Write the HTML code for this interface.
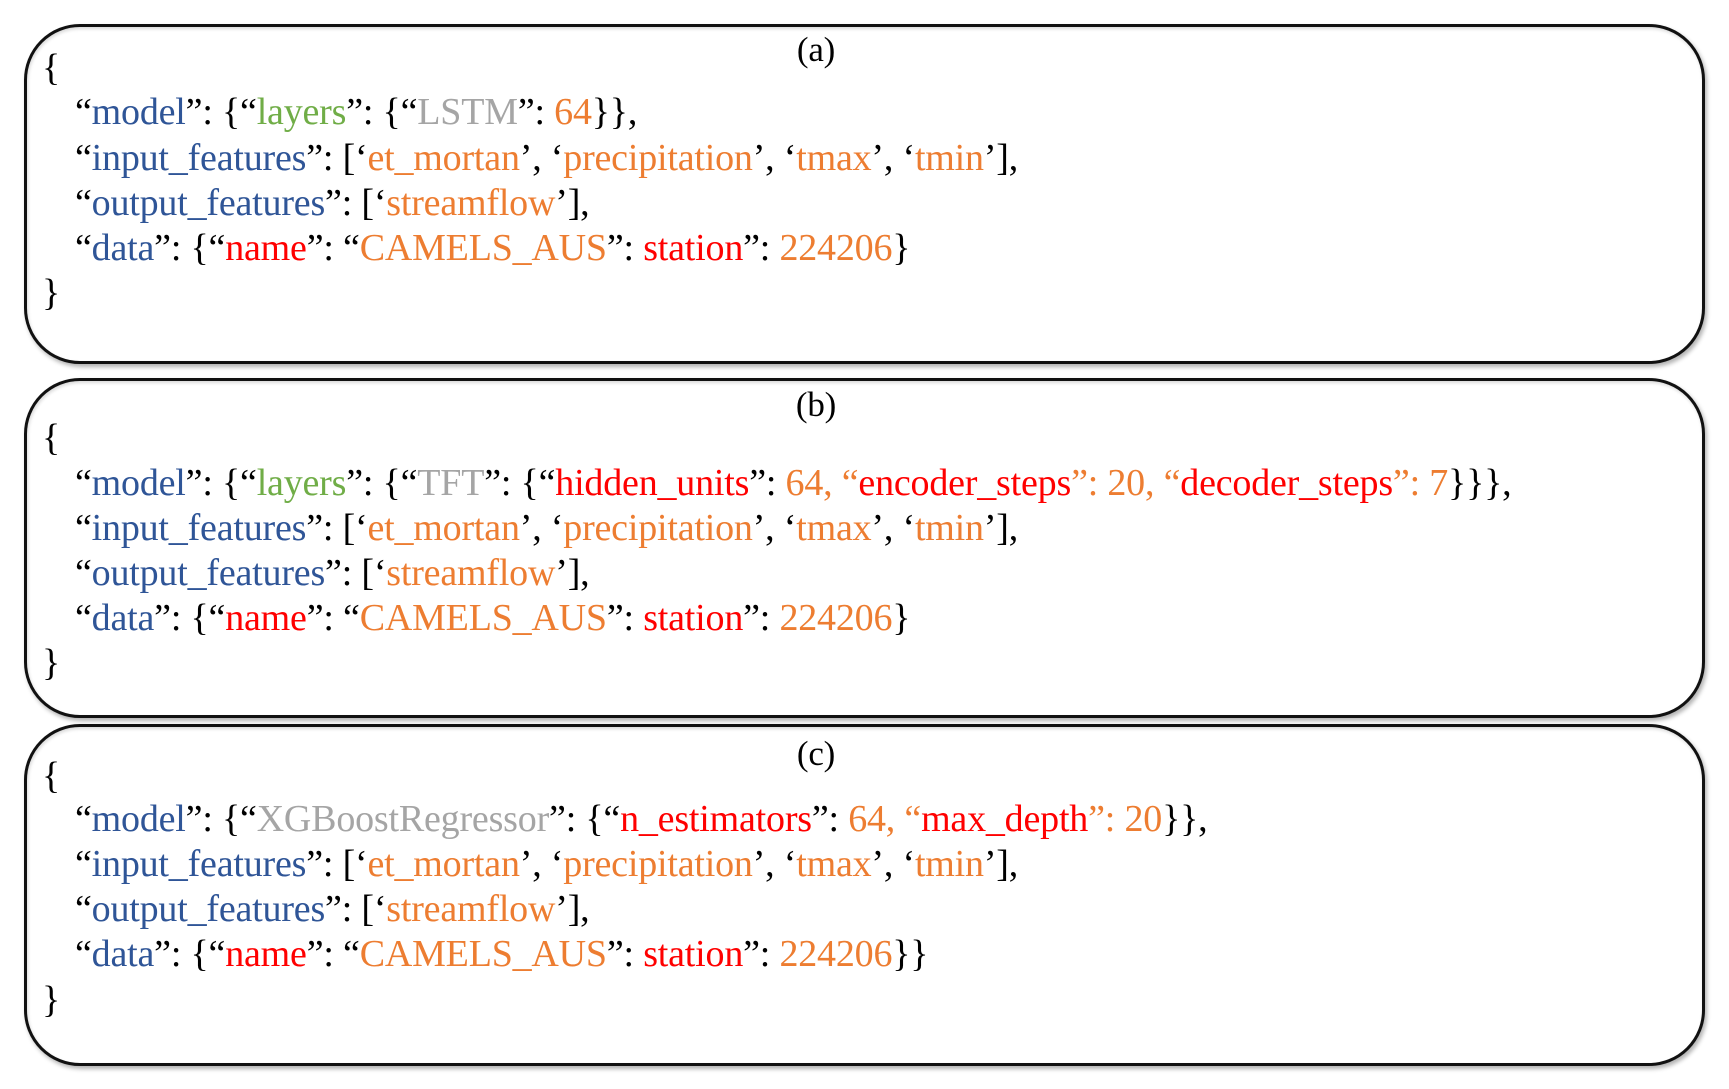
<!DOCTYPE html>
<html><head><meta charset="utf-8"><style>
html,body{margin:0;padding:0;background:#fff;width:1729px;height:1089px;overflow:hidden;position:relative}
.box{position:absolute;left:24px;width:1675px;border:3px solid #111;border-radius:56px;box-shadow:2px 3px 4px rgba(0,0,0,0.3), inset 1px 2px 3px rgba(0,0,0,0.15);background:#fff}
.t{position:absolute;font-family:"Liberation Serif",serif;font-size:38px;line-height:40px;white-space:pre;color:#000;letter-spacing:-0.2px}
.lab{left:0;width:1632px;text-align:center;font-size:35px}
.b{color:#2F5597}.g{color:#70AD47}.y{color:#A5A5A5}.o{color:#ED7D31}.r{color:#FF0000}
</style></head><body>
<div class="box" style="top:24px;height:334px"></div>
<div class="box" style="top:378px;height:334px"></div>
<div class="box" style="top:724px;height:336px"></div>

<div class="t lab" style="top:30px">(a)</div>
<div class="t" style="left:42px;top:48px">{</div>
<div class="t" style="left:75px;top:92px">“<span class="b">model</span>”: {“<span class="g">layers</span>”: {“<span class="y">LSTM</span>”: <span class="o">64</span>}},</div>
<div class="t" style="left:75px;top:138px">“<span class="b">input_features</span>”: [‘<span class="o">et_mortan</span>’, ‘<span class="o">precipitation</span>’, ‘<span class="o">tmax</span>’, ‘<span class="o">tmin</span>’],</div>
<div class="t" style="left:75px;top:183px">“<span class="b">output_features</span>”: [‘<span class="o">streamflow</span>’],</div>
<div class="t" style="left:75px;top:228px">“<span class="b">data</span>”: {“<span class="r">name</span>”: “<span class="o">CAMELS_AUS</span>”: <span class="r">station</span>”: <span class="o">224206</span>}</div>
<div class="t" style="left:42px;top:273px">}</div>

<div class="t lab" style="top:385px">(b)</div>
<div class="t" style="left:42px;top:418px">{</div>
<div class="t" style="left:75px;top:463px">“<span class="b">model</span>”: {“<span class="g">layers</span>”: {“<span class="y">TFT</span>”: {“<span class="r">hidden_units</span>”: <span class="o">64, “</span><span class="r">encoder_steps</span><span class="o">”: 20, “</span><span class="r">decoder_steps</span><span class="o">”: 7</span>}}},</div>
<div class="t" style="left:75px;top:508px">“<span class="b">input_features</span>”: [‘<span class="o">et_mortan</span>’, ‘<span class="o">precipitation</span>’, ‘<span class="o">tmax</span>’, ‘<span class="o">tmin</span>’],</div>
<div class="t" style="left:75px;top:553px">“<span class="b">output_features</span>”: [‘<span class="o">streamflow</span>’],</div>
<div class="t" style="left:75px;top:598px">“<span class="b">data</span>”: {“<span class="r">name</span>”: “<span class="o">CAMELS_AUS</span>”: <span class="r">station</span>”: <span class="o">224206</span>}</div>
<div class="t" style="left:42px;top:643px">}</div>

<div class="t lab" style="top:734px">(c)</div>
<div class="t" style="left:42px;top:756px">{</div>
<div class="t" style="left:75px;top:799px">“<span class="b">model</span>”: {“<span class="y">XGBoostRegressor</span>”: {“<span class="r">n_estimators</span>”: <span class="o">64, “</span><span class="r">max_depth</span><span class="o">”: 20</span>}},</div>
<div class="t" style="left:75px;top:844px">“<span class="b">input_features</span>”: [‘<span class="o">et_mortan</span>’, ‘<span class="o">precipitation</span>’, ‘<span class="o">tmax</span>’, ‘<span class="o">tmin</span>’],</div>
<div class="t" style="left:75px;top:889px">“<span class="b">output_features</span>”: [‘<span class="o">streamflow</span>’],</div>
<div class="t" style="left:75px;top:934px">“<span class="b">data</span>”: {“<span class="r">name</span>”: “<span class="o">CAMELS_AUS</span>”: <span class="r">station</span>”: <span class="o">224206</span>}}</div>
<div class="t" style="left:42px;top:980px">}</div>
</body></html>
